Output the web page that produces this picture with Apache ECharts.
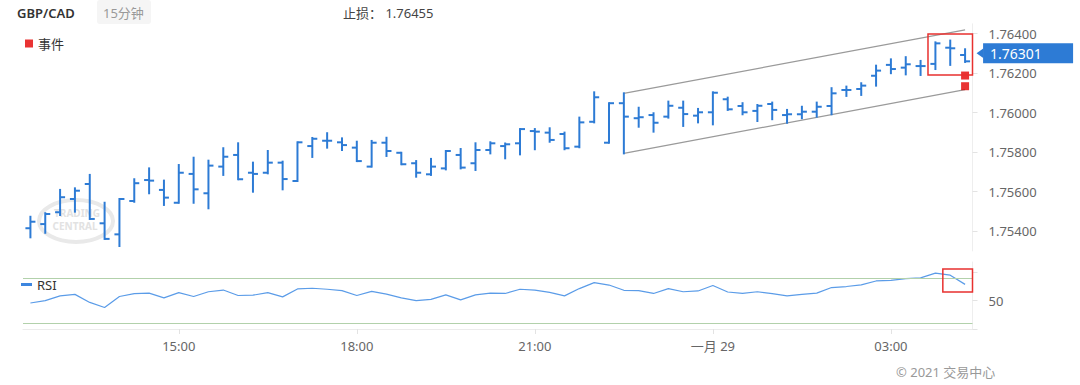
<!DOCTYPE html>
<html><head><meta charset="utf-8">
<script src="https://cdn.jsdelivr.net/npm/echarts@6/dist/echarts.min.js"></script>
<style>html,body{margin:0;padding:0;background:#fff}#c{width:1080px;height:385px}</style>
</head><body><div id="c"></div>
<script>
const categories = ['12:30','12:45','13:00','13:15','13:30','13:45','14:00','14:15','14:30','14:45',
'15:00','15:15','15:30','15:45','16:00','16:15','16:30','16:45','17:00','17:15',
'17:30','17:45','18:00','18:15','18:30','18:45','19:00','19:15','19:30','19:45',
'20:00','20:15','20:30','20:45','21:00','21:15','21:30','21:45','22:00','22:15',
'22:30','22:45','23:00','23:15','23:30','23:45','00:00','00:15','00:30','00:45',
'01:00','01:15','01:30','01:45','02:00','02:15','02:30','02:45','03:00','03:15',
'03:30','03:45','04:00','04:15'];
const tickLabels = {'15:00':'15:00','18:00':'18:00','21:00':'21:00','00:00':'一月 29','03:00':'03:00'};
const opens = [1.75415,1.75436,1.75496,1.75563,1.75639,1.7544,1.75384,1.75553,1.75659,1.75609,
1.75544,1.7569,1.75592,1.75727,1.75786,1.75696,1.75696,1.75747,1.75654,1.75831,
1.75858,1.7585,1.75823,1.75727,1.75848,1.75797,1.75744,1.75688,1.75718,1.75786,
1.75744,1.75811,1.75831,1.75845,1.75907,1.75899,1.75892,1.75828,1.75954,1.75848,
1.76048,1.75972,1.75988,1.7598,1.76025,1.75985,1.76002,1.76068,1.76034,1.76009,
1.76044,1.75988,1.75992,1.76005,1.76034,1.76115,1.7612,1.76187,1.76242,1.76228,
1.76236,1.76247,1.76329,1.76292];
const highs = [1.75473,1.75491,1.75609,1.75617,1.75685,1.75544,1.75563,1.75663,1.75718,1.75656,
1.75735,1.75772,1.75757,1.7582,1.75845,1.75747,1.75806,1.75752,1.7585,1.75872,
1.75896,1.7587,1.75853,1.75857,1.75873,1.75797,1.75755,1.75766,1.75806,1.75816,
1.75845,1.7585,1.75844,1.75917,1.75917,1.75921,1.75899,1.75975,1.76103,1.76048,
1.76098,1.76025,1.75997,1.76056,1.76056,1.76019,1.76103,1.76076,1.76048,1.76039,
1.76051,1.76014,1.7603,1.76051,1.76124,1.76132,1.76149,1.76238,1.7627,1.76281,
1.76262,1.76356,1.76365,1.76321];
const lows = [1.75369,1.75392,1.75482,1.75499,1.75462,1.75361,1.75325,1.75549,1.75592,1.75533,
1.75544,1.75544,1.75516,1.75685,1.75663,1.756,1.75693,1.75612,1.75654,1.75776,
1.75823,1.75811,1.75755,1.75727,1.75781,1.75739,1.75676,1.75685,1.75713,1.75718,
1.7571,1.75794,1.75769,1.75789,1.75815,1.75853,1.75815,1.75825,1.75951,1.75848,
1.75794,1.75929,1.75904,1.75975,1.75933,1.75951,1.75941,1.76014,1.75992,1.75958,
1.75967,1.75949,1.75972,1.7598,1.75992,1.76085,1.7609,1.76137,1.762,1.76194,
1.76191,1.76221,1.76242,1.76257];
const closes = [1.75448,1.75487,1.75572,1.75605,1.75462,1.75361,1.75563,1.75643,1.75656,1.7557,
1.75696,1.75612,1.75732,1.75777,1.75663,1.7569,1.75747,1.75664,1.7585,1.75868,
1.75858,1.75836,1.75755,1.75848,1.75806,1.75739,1.75696,1.75727,1.75806,1.75722,
1.75811,1.75845,1.7584,1.75917,1.75904,1.75862,1.7582,1.75951,1.76078,1.76048,
1.7598,1.75977,1.75949,1.76035,1.75993,1.76002,1.76101,1.76017,1.76002,1.76035,
1.76014,1.75992,1.76005,1.7603,1.76098,1.76115,1.76137,1.76213,1.76221,1.76245,
1.76236,1.76351,1.76326,1.7626];
const rsi = [47.9,50.0,54.2,55.5,48.4,43.9,53.6,56.1,56.6,52.4,
57.0,53.6,57.8,59.3,54.5,54.8,57.0,53.3,60.3,60.9,
60.0,58.8,54.5,58.2,55.7,52.4,50.0,51.1,55.1,50.6,
55.1,56.6,56.3,60.0,59.3,57.2,54.2,60.6,65.8,63.7,
59.1,58.8,56.3,60.6,57.8,58.5,63.3,57.6,56.3,57.8,
56.1,54.2,55.5,56.6,61.5,62.4,63.9,67.3,67.9,69.4,
70.0,74.2,72.4,64.3];
const rsiLevels = [70, 30];
const channelUpper = [['22:30', 1.76098], ['04:15', 1.76419]];
const channelLower = [['22:30', 1.75794], ['04:15', 1.76117]];
const events = [['04:15', 1.76188], ['04:15', 1.76134]];
const priceBox = [['03:45', '04:15', 1.76398, 1.76191]];
const rsiBox = [['04:00', '04:15', 77.8, 57.6]];
const lastPrice = 1.76301;
const stopLoss = '1.76455';
const symbolName = 'GBP/CAD';
const period = '15分钟';

const FONT = '"Noto Sans", "Noto Sans CJK SC", sans-serif';
const BLUE = '#2d7bd5';
const ohlcData = categories.map((c, i) => [i, opens[i], highs[i], lows[i], closes[i]]);
const showTick = (i, v) => Object.prototype.hasOwnProperty.call(tickLabels, v);

function boxRender(params, api) {
  const a = api.coord([api.value(0), api.value(2)]);
  const b = api.coord([api.value(1), api.value(3)]);
  const bw = api.size([1, 0])[0];
  return {type: 'rect', shape: {x: a[0] - bw / 2, y: a[1], width: b[0] - a[0] + bw, height: b[1] - a[1]},
    style: {fill: 'none', stroke: '#e8312f', lineWidth: 1.5}};
}

const chart = echarts.init(document.getElementById('c'), null, {renderer: 'svg'});
chart.setOption({
  animation: false,
  textStyle: {fontFamily: FONT},
  grid: [
    {left: 23, right: 107.5, top: 23.8, bottom: 134.05},
    {left: 23, right: 107.5, top: 262, bottom: 56}
  ],
  legend: [
    {data: ['事件'], left: 25, top: 36.5, padding: 0, icon: 'rect', itemWidth: 8, itemHeight: 8, itemGap: 5,
      textStyle: {fontSize: 13, color: '#333', fontFamily: FONT, lineHeight: 14}},
    {data: ['RSI'], left: 21, top: 277.5, padding: 0, icon: 'rect', itemWidth: 11, itemHeight: 3,
      textStyle: {fontSize: 13, color: '#333', fontFamily: FONT, lineHeight: 14}}
  ],
  xAxis: [
    {type: 'category', data: categories, gridIndex: 0, axisLabel: {show: false}, axisLine: {show: false}, axisTick: {show: false}},
    {type: 'category', data: categories, gridIndex: 1,
      axisLine: {show: true, lineStyle: {color: '#ececec'}},
      axisTick: {show: true, alignWithLabel: true, interval: showTick, length: 5, lineStyle: {color: '#e3e3e3'}},
      axisLabel: {interval: showTick, formatter: v => tickLabels[v] || '', color: '#666', fontSize: 13, margin: 10, fontFamily: FONT}}
  ],
  yAxis: [
    {type: 'value', gridIndex: 0, position: 'right', min: 1.753, max: 1.7645, splitNumber: 5, scale: true,
      splitLine: {show: false},
      axisLine: {show: true, lineStyle: {color: '#eeeeee'}},
      axisTick: {show: true, length: 5, lineStyle: {color: '#e3e3e3'}},
      axisLabel: {showMinLabel: false, showMaxLabel: false, margin: 16, color: '#666', fontSize: 13, fontFamily: FONT,
        formatter: v => v.toFixed(5)}},
    {type: 'value', gridIndex: 1, position: 'right', min: 25, max: 84, interval: 25,
      splitLine: {show: false},
      axisLine: {show: true, lineStyle: {color: '#eeeeee'}},
      axisTick: {show: true, length: 5, lineStyle: {color: '#e3e3e3'}},
      axisLabel: {showMaxLabel: false, margin: 16, color: '#666', fontSize: 13, fontFamily: FONT,
        formatter: v => (v === 50 ? '50' : '')}}
  ],
  series: [
    {name: 'OHLC', type: 'custom', xAxisIndex: 0, yAxisIndex: 0, data: ohlcData,
      encode: {x: 0, y: [1, 2, 3, 4]},
      renderItem: (params, api) => {
        const i = api.value(0);
        const o = api.coord([i, api.value(1)]);
        const h = api.coord([i, api.value(2)]);
        const l = api.coord([i, api.value(3)]);
        const c = api.coord([i, api.value(4)]);
        const st = {stroke: BLUE, lineWidth: 2};
        return {type: 'group', children: [
          {type: 'line', shape: {x1: h[0], y1: h[1] - 1, x2: l[0], y2: l[1] + 1}, style: st},
          {type: 'line', shape: {x1: o[0] - 5, y1: o[1], x2: o[0], y2: o[1]}, style: st},
          {type: 'line', shape: {x1: c[0], y1: c[1], x2: c[0] + 5, y2: c[1]}, style: st}
        ]};
      }},
    {name: 'channelUpper', type: 'line', xAxisIndex: 0, yAxisIndex: 0, data: channelUpper, symbol: 'none', silent: true,
      lineStyle: {color: '#9a9a9a', width: 1.2}, z: 1,
      markPoint: {silent: true, data: [
        {coord: ['04:15', lastPrice], symbol: 'triangle', symbolSize: [10, 7], symbolRotate: 90, symbolOffset: [15, 0],
          itemStyle: {color: BLUE}, label: {show: false}},
        {coord: ['04:15', lastPrice], symbol: 'rect', symbolSize: [90, 20], symbolOffset: [63, 0],
          itemStyle: {color: BLUE},
          label: {show: true, position: 'insideLeft', distance: 7, formatter: lastPrice.toFixed(5),
            color: '#fff', fontSize: 14, fontFamily: FONT}}
      ]}},
    {name: 'channelLower', type: 'line', xAxisIndex: 0, yAxisIndex: 0, data: channelLower, symbol: 'none', silent: true,
      lineStyle: {color: '#9a9a9a', width: 1.2}, z: 1},
    {name: '事件', type: 'scatter', xAxisIndex: 0, yAxisIndex: 0, data: events, symbol: 'rect', symbolSize: 8,
      itemStyle: {color: '#e40000'}, z: 5},
    {name: 'priceBox', type: 'custom', xAxisIndex: 0, yAxisIndex: 0, data: priceBox, encode: {x: [0, 1], y: [2, 3]},
      renderItem: boxRender, silent: true, z: 6},
    {name: 'RSI', type: 'line', xAxisIndex: 1, yAxisIndex: 1, data: rsi, symbol: 'none',
      lineStyle: {color: '#5b9ce8', width: 1.2}, itemStyle: {color: '#3d86df'},
      markLine: {silent: true, symbol: ['none', 'none'], label: {show: false},
        lineStyle: {color: '#b2d1ab', width: 1.2, type: 'solid'},
        data: rsiLevels.map(v => ({yAxis: v}))}},
    {name: 'rsiBox', type: 'custom', xAxisIndex: 1, yAxisIndex: 1, data: rsiBox, encode: {x: [0, 1], y: [2, 3]},
      renderItem: boxRender, silent: true, z: 6}
  ],
  graphic: [
    {type: 'ellipse', shape: {cx: 76, cy: 221, rx: 37, ry: 21}, style: {fill: 'none', stroke: '#e9e9e9', lineWidth: 4}, z: -1, silent: true},
    {type: 'text', x: 77, y: 213, z: -1, silent: true, style: {text: 'TRADING', fill: '#e2e2e2', font: 'bold 10px ' + FONT, align: 'center', verticalAlign: 'middle'}},
    {type: 'text', x: 75, y: 226, z: -1, silent: true, style: {text: 'CENTRAL', fill: '#e2e2e2', font: 'bold 10px ' + FONT, align: 'center', verticalAlign: 'middle'}},
    {type: 'rect', shape: {x: 97, y: 0, width: 54, height: 24, r: 3}, style: {fill: '#f5f5f5'}},
    {type: 'text', x: 17, y: 13, style: {text: symbolName, fill: '#333', font: '600 13px ' + FONT, verticalAlign: 'middle'}},
    {type: 'text', x: 103, y: 13, style: {text: period, fill: '#999', font: '13px ' + FONT, verticalAlign: 'middle'}},
    {type: 'text', x: 343, y: 13, style: {text: '止损： ' + stopLoss, fill: '#444', font: '13px ' + FONT, verticalAlign: 'middle'}},
    {type: 'text', x: 896, y: 372, style: {text: '© 2021 交易中心', fill: '#999', font: '13px ' + FONT, verticalAlign: 'middle'}}
  ]
});
</script></body></html>
